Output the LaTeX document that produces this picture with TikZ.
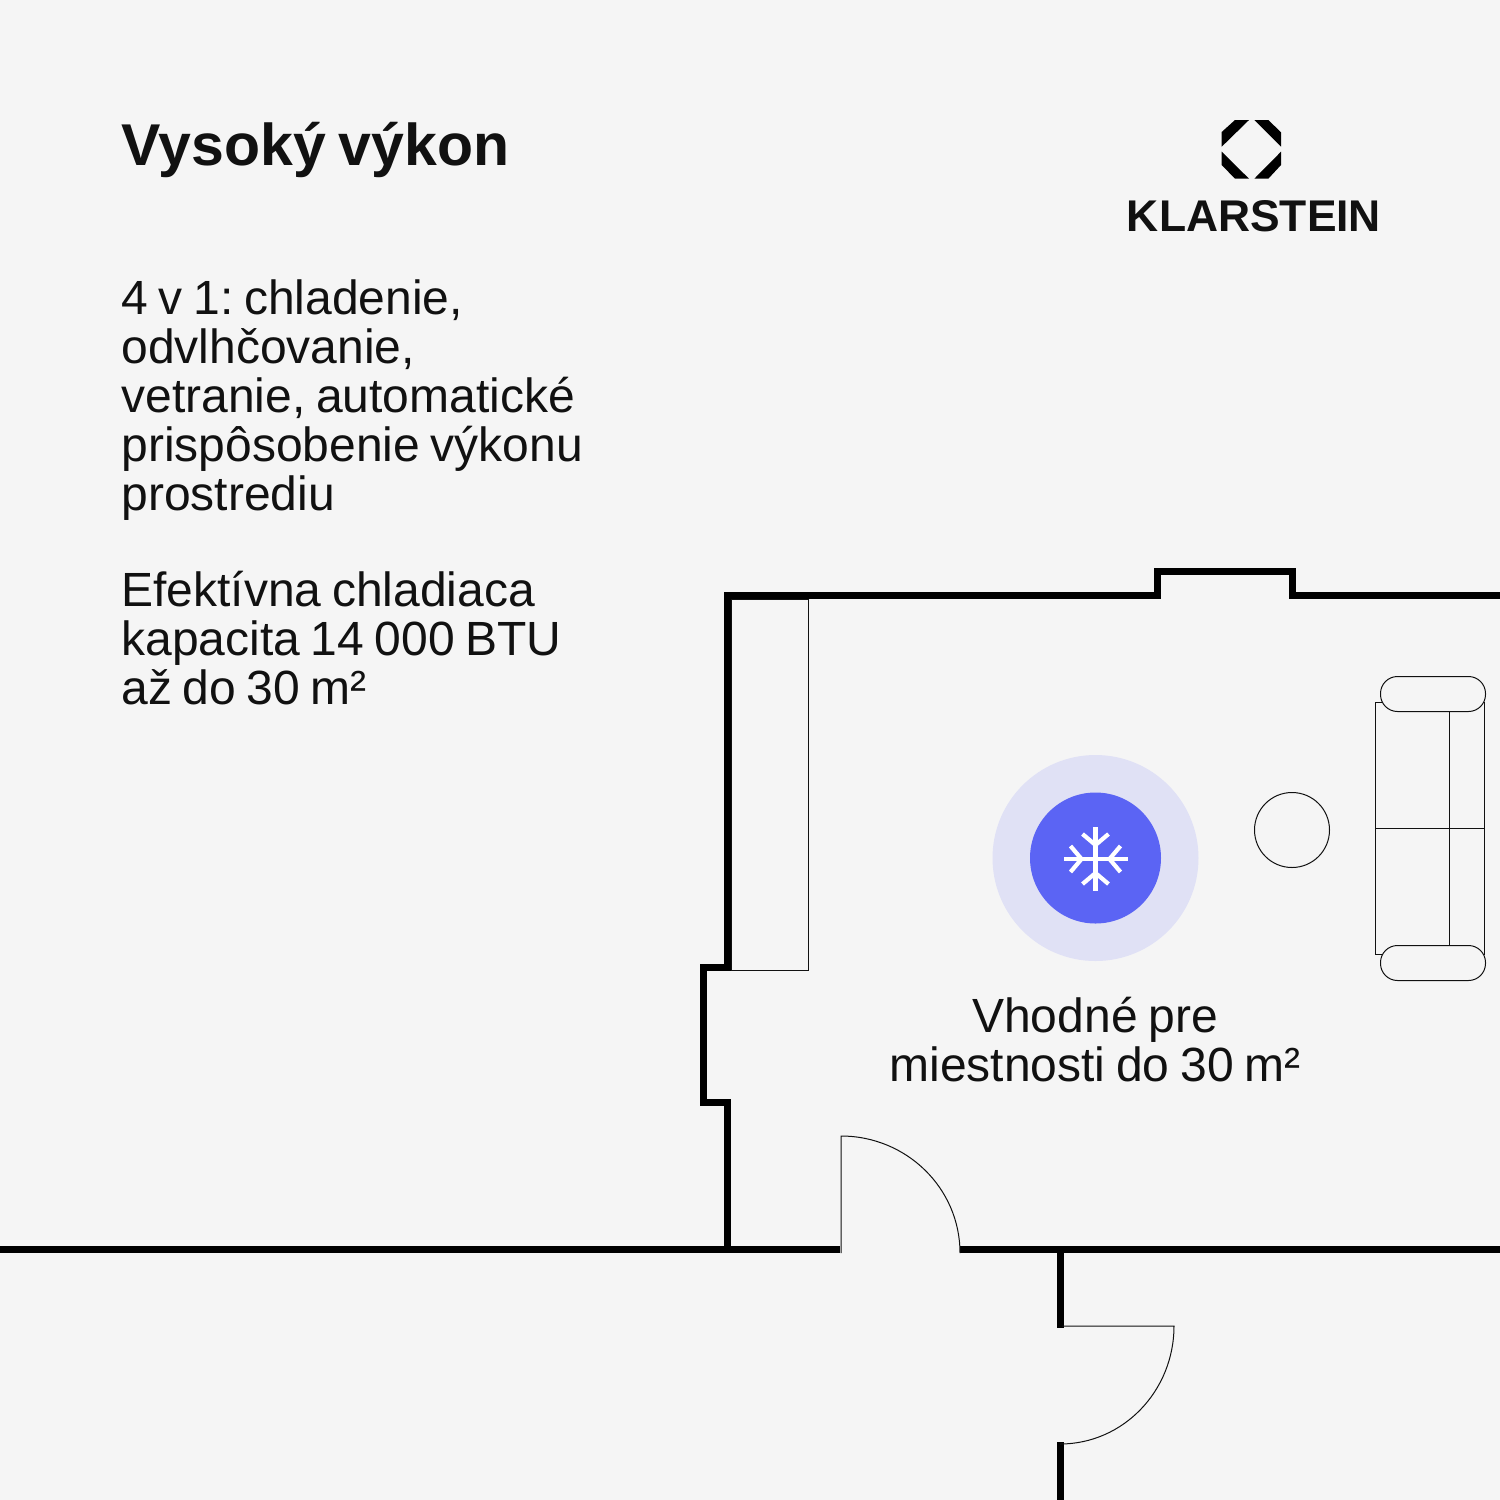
\documentclass[tikz,border=0pt]{standalone}
\usepackage{fontspec}
\setmainfont[WordSpace=0.8]{Liberation Sans}
\definecolor{paper}{HTML}{F5F5F5}
\definecolor{halo}{HTML}{E0E1F5}
\definecolor{disc}{HTML}{5B64F4}
\definecolor{ink}{HTML}{111111}
\tikzset{
    wall/.style={draw=black, line width=3.5pt, line cap=butt, line join=miter},
    thinline/.style={draw=ink, line width=0.5pt},
    textblock/.style={inner sep=0pt, anchor=north west, align=left, text=ink, font=\fontsize{24}{24.5}\selectfont},
    flake/.style={draw=white, line width=2.1pt, line cap=butt}
}
\frenchspacing
\begin{document}
\begin{tikzpicture}[x=0.5pt,y=-0.5pt]
    	\useasboundingbox[fill=paper] (0,0) rectangle (1500,1500);
    	% walls
    	\draw[wall] (0,1249.5) -- (840,1249.5);
    	\draw[wall] (960,1249.5) -- (1500,1249.5);
    	\draw[wall] (727.5,1249.5) -- (727.5,1102) -- (703,1102) -- (703,967.5) -- (727.5,967.5) -- (727.5,595) -- (1157,595) -- (1157,571) -- (1292,571) -- (1292,595) -- (1500,595);
    	\draw[wall] (1060,1246) -- (1060,1328);
    	\draw[wall] (1060.5,1442) -- (1060.5,1500);
    	% furniture
    	\draw[thinline] (731,599) rectangle (808,970);
    	\node[draw=ink, line width=0.5pt, circle, minimum size=37.5pt, inner sep=0pt] (table) at (1292,830) {};
    	\draw[thinline] (1375,702) rectangle (1484,954);
    	\draw[thinline] (1449,702) -- (1449,954);
    	\draw[thinline] (1375,828) -- (1484,828);
    	\draw[thinline, fill=paper, rounded corners=8.5pt] (1380.5,676.5) rectangle (1485.5,711.5);
    	\draw[thinline, fill=paper, rounded corners=8.5pt] (1380.5,945.5) rectangle (1485.5,980.5);
    	% doors
    	\draw[thinline] (841,1253) -- (841,1136) arc[start angle=90, end angle=0, x radius=119, y radius=-117];
    	\draw[thinline] (1062,1326) -- (1174,1326) arc[start angle=0, end angle=90, x radius=114, y radius=118];
    	% cooling mark
    	\node[circle, fill=halo, minimum size=103pt, inner sep=0pt] (halo) at (1095.5,858) {};
    	\node[circle, fill=disc, minimum size=65.5pt, inner sep=0pt] (disc) at (1095.5,858) {};
    	\foreach \a in {0,90,180,270} {
    	\draw[flake, shift={(1095.5,859)}, rotate=\a] (0,0) -- (32,0);
    	\draw[flake, shift={(1095.5,859)}, rotate=\a] (14,0) -- (25,13);
    	\draw[flake, shift={(1095.5,859)}, rotate=\a] (14,0) -- (25,-13);
    	}
    	% logo
    	\fill[black] (1221.7,132) -- (1235,120) -- (1249,120) -- (1221.7,146.7) -- cycle;
    	\fill[black] (1254.3,120) -- (1268.3,120) -- (1281,132.3) -- (1281,146.7) -- cycle;
    	\fill[black] (1221.7,151.7) -- (1249,178.7) -- (1235,178.7) -- (1221.7,165) -- cycle;
    	\fill[black] (1281,151.7) -- (1254.3,178.7) -- (1268.3,178.7) -- (1281,165) -- cycle;
    	\node[inner sep=0pt, text=ink, font=\fontsize{22.2}{24}\selectfont\bfseries] (brand) at (1254,216) {KLARSTEIN};
    	% texts
    	\node[textblock, font=\fontsize{29.5}{32}\selectfont\bfseries] (title) at (121,122) {Vysoký výkon};
    	\node[textblock] (features) at (121,279) {4 v 1: chladenie,\\odvlhčovanie,\\vetranie, automatické\\prispôsobenie výkonu\\prostrediu};
    	\node[textblock] (capacity) at (121,571) {Efektívna chladiaca\\kapacita 14 000 BTU\\až do 30 m²};
    	\node[textblock, anchor=north, align=center] (roomlabel) at (1095,997) {Vhodné pre\\miestnosti do 30 m²};
\end{tikzpicture}
\end{document}
